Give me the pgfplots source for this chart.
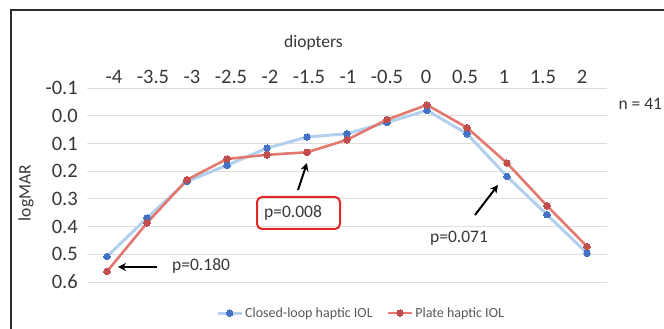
\documentclass[border=0pt]{standalone}
\usepackage{fontspec}
\setmainfont{Carlito}
\usepackage{pgfplots}
\usepackage{pgfplotstable}
\pgfplotsset{compat=1.18}
\usetikzlibrary{arrows.meta}
\definecolor{bluel}{RGB}{178,208,238}
\definecolor{bluem}{RGB}{68,114,196}
\definecolor{redl}{RGB}{226,120,110}
\definecolor{redm}{RGB}{192,78,76}
\definecolor{txt}{RGB}{56,56,56}
\definecolor{legtxt}{RGB}{89,89,89}
\definecolor{gridc}{RGB}{222,222,222}
\definecolor{boxred}{RGB}{228,38,38}

\pgfplotstableread{
x closed plate
-4 0.508 0.562
-3.5 0.369 0.387
-3 0.237 0.231
-2.5 0.179 0.156
-2 0.117 0.141
-1.5 0.077 0.132
-1 0.065 0.087
-0.5 0.024 0.014
0 -0.019 -0.039
0.5 0.065 0.043
1 0.219 0.171
1.5 0.357 0.325
2 0.496 0.472
}\datatab

\begin{document}
\begin{tikzpicture}[x=1pt,y=1pt]
\useasboundingbox (0,0) rectangle (664,329);
\draw[line width=1.3pt, gray!35!black] (11,0) -- (11,319) -- (664,319);
\begin{axis}[
  at={(87pt,47pt)}, anchor=south west,
  scale only axis, width=520pt, height=194pt,
  xmin=-4.25, xmax=2.25, ymin=-0.1, ymax=0.6, y dir=reverse,
  clip=false,
  axis line style={draw=none},
  tick style={draw=none},
  major tick length=0pt,
  ymajorgrids, grid style={gridc, line width=1pt},
  xtick={-3.9125,-3.425,-2.9375,-2.45,-1.9625,-1.475,-0.9875,-0.5,-0.0125,0.475,0.9625,1.45,1.9375},
  xticklabels={-4,-3.5,-3,-2.5,-2,-1.5,-1,-0.5,0,0.5,1,1.5,2},
  xticklabel pos=upper,
  ytick={-0.1,0,0.1,0.2,0.3,0.4,0.5,0.6},
  yticklabels={-0.1,0.0,0.1,0.2,0.3,0.4,0.5,0.6},
  every tick label/.append style={inner sep=0pt, text=txt, font=\fontsize{20.5}{24}\selectfont},
  xticklabel style={anchor=base, yshift=5pt},
  yticklabel style={anchor=east, xshift=-9pt},
  legend columns=2,
  legend cell align=left,
  legend image code/.code={\draw[mark repeat=2,mark phase=2,#1] plot coordinates {(0pt,0pt) (12pt,0pt) (24pt,0pt)};},
  legend style={draw=none, fill=none, at={(axis description cs:0.527,-0.16)}, anchor=center,
    font=\fontsize{14}{17}\selectfont, text=legtxt,
    /tikz/every even column/.append style={column sep=12pt}},
]
\addplot[bluel, line width=3pt, mark=*, mark size=3.3pt, mark options={fill=bluem, draw=bluem, line width=0pt}] table[x=x, y=closed] {\datatab};
\addlegendentry{Closed-loop haptic IOL}
\addplot[redl, line width=2.6pt, mark=*, mark size=3.3pt, mark options={fill=redm, draw=redm, line width=0pt}] table[x=x, y=plate] {\datatab};
\addlegendentry{Plate haptic IOL}
\end{axis}
\node[anchor=base, text=txt, font=\fontsize{17.5}{21}\selectfont] at (313.5,281) {diopters};
\node[rotate=90, text=txt, font=\fontsize{17.5}{21}\selectfont] at (26,136) {logMAR};
\node[anchor=base west, text=txt, font=\fontsize{17.5}{21}\selectfont] at (615,219) {n = 41};
% annotations
\draw[line width=2pt, -{Stealth[length=8pt,width=8pt]}] (157,62) -- (118,62);
\node[anchor=west, inner sep=0pt, text=txt, font=\fontsize{17.5}{21}\selectfont] at (172,63) {p=0.180};
\draw[boxred, line width=2pt, rounded corners=5pt] (257,100) rectangle (340,132);
\node[inner sep=0pt, text=txt, font=\fontsize{17.5}{21}\selectfont] at (293,116) {p=0.008};
\draw[line width=2pt, -{Stealth[length=8pt,width=8pt]}] (298,139) -- (307,166);
\node[inner sep=0pt, text=txt, font=\fontsize{17.5}{21}\selectfont] at (459,91) {p=0.071};
\draw[line width=2pt, -{Stealth[length=8pt,width=8pt]}] (475,114) -- (498,144);
\end{tikzpicture}
\end{document}
